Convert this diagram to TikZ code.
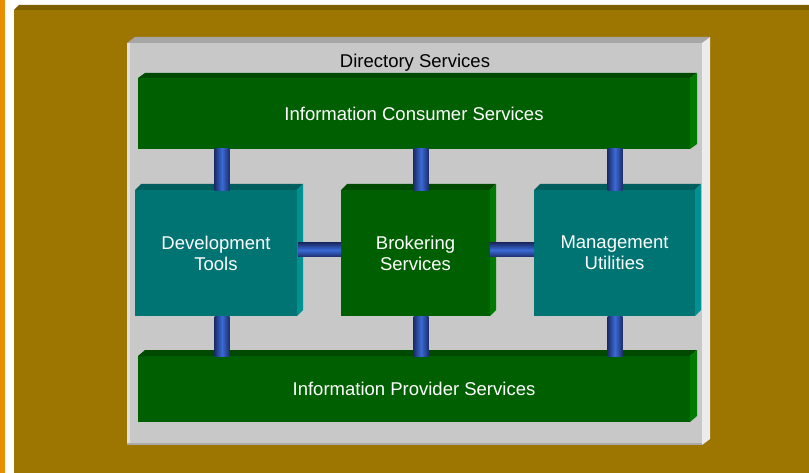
\documentclass[tikz,border=0pt]{standalone}
\usepackage{fontspec}
\setmainfont{Liberation Sans}
\usetikzlibrary{calc}
\definecolor{olive}{HTML}{9C7600}
\definecolor{olivedark}{HTML}{7E5F00}
\definecolor{orangestrip}{HTML}{E88E00}
\definecolor{panelface}{HTML}{C8C8C8}
\definecolor{paneltop}{HTML}{A6A6A6}
\definecolor{panelright}{HTML}{ECECEC}
\definecolor{panelleft}{HTML}{E0E0E0}
\definecolor{grnface}{HTML}{005F00}
\definecolor{grntop}{HTML}{004A00}
\definecolor{grnright}{HTML}{007A00}
\definecolor{tealface}{HTML}{007373}
\definecolor{tealtop}{HTML}{005E5E}
\definecolor{tealright}{HTML}{009292}
\definecolor{pipedark}{HTML}{1C2D6A}
\definecolor{pipebright}{HTML}{3A6AD6}
\newcommand\bevboxes[5]{%
  \fill[#2] (#1.north west) -- ++(#4,-#5) -- ([shift={(#4,-#5)}]#1.north east) -- (#1.north east) -- cycle;
  \fill[#3] (#1.north east) -- ++(#4,-#5) -- ([shift={(#4,-#5)}]#1.south east) -- (#1.south east) -- cycle;}
\tikzset{
  face/.style={rectangle, inner sep=0pt, outer sep=0pt, anchor=north west, text=white, align=center,
    font=\fontsize{18.5}{21}\selectfont},
  grnbox/.style={face, fill=grnface},
  tealbox/.style={face, fill=tealface},
  vpipe/.style={left color=pipedark, right color=pipedark, middle color=pipebright},
  hpipe/.style={top color=pipedark, bottom color=pipedark, middle color=pipebright},
}
\begin{document}
\begin{tikzpicture}[x=1pt,y=-1pt]
\useasboundingbox (0,0) rectangle (809,473);
\fill[white] (0,0) rectangle (809,473);
\fill[orangestrip] (0,0) rectangle (5,473);
% olive background
\fill[olive] (14,10) rectangle (809,473);
\fill[olivedark] (14,10) -- (19,5) -- (809,5) -- (809,10) -- cycle;
% gray panel
\node[face, fill=panelface, minimum width=575pt, minimum height=402pt] (panel) at (127,43) {};
\bevboxes{panel}{paneltop}{panelright}{8}{6}
\fill[panelleft] (panel.north west) rectangle ([xshift=3pt]panel.south west);
\fill[paneltop!90!panelface] ([yshift=2pt]panel.south west) rectangle (panel.south east);
\node[font=\fontsize{18.5}{21}\selectfont, text=black, inner sep=0pt] (ds) at (415,63) {Directory Services};
% boxes
\node[grnbox, minimum width=552pt, minimum height=71pt] (ics) at (138,78) {Information Consumer Services};
\bevboxes{ics}{grntop}{grnright}{7}{5}
\node[grnbox, minimum width=552pt, minimum height=66pt] (ips) at (138,356) {Information Provider Services};
\bevboxes{ips}{grntop}{grnright}{7}{6}
\node[tealbox, minimum width=162pt, minimum height=126pt] (dev) at (135,190) {Development\\Tools};
\bevboxes{dev}{tealtop}{tealright}{6}{6}
\node[grnbox, minimum width=149pt, minimum height=126pt] (brk) at (341,190) {Brokering\\Services};
\bevboxes{brk}{grntop}{grnright}{6}{6}
\node[tealbox, minimum width=161pt, minimum height=126pt] (mgt) at (534,190) {Management\\Utilities};
\bevboxes{mgt}{tealtop}{tealright}{6}{6}
% connector axes
\coordinate (c1) at (222,0);
\coordinate (c2) at (421,0);
\coordinate (c3) at (615,0);
\coordinate (h) at (0,250);
% vertical pipes
\foreach \c/\b in {c1/dev, c2/brk, c3/mgt}{
  \shade[vpipe] ([xshift=-7.5pt]ics.south -| \c) rectangle ([xshift=7.5pt,yshift=-1pt]\b.north -| \c);
  \shade[vpipe] ([xshift=-7.5pt]\b.south -| \c) rectangle ([xshift=7.5pt]ips.north -| \c);
}
% horizontal pipes
\shade[hpipe] ([xshift=1pt,yshift=7pt]dev.east |- h) rectangle ([yshift=-7pt]brk.west |- h);
\shade[hpipe] ([yshift=7pt]brk.east |- h) rectangle ([yshift=-7pt]mgt.west |- h);
\end{tikzpicture}
\end{document}
